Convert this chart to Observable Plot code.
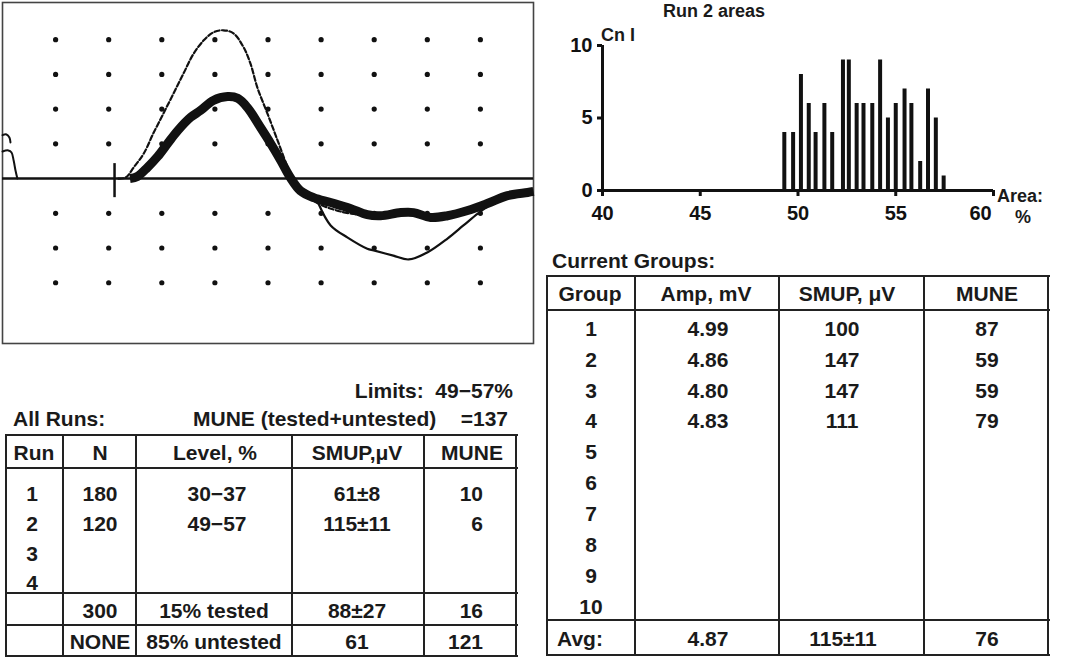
<!DOCTYPE html>
<html><head><meta charset="utf-8">
<script src="https://cdn.jsdelivr.net/npm/d3@7"></script>
<script src="https://cdn.jsdelivr.net/npm/@observablehq/plot@0.6"></script>
<style>
body{margin:0;background:#fff;}
#root{position:relative;width:1067px;height:657px;overflow:hidden;font-family:"Liberation Sans",Arial,sans-serif;font-weight:bold;color:#1a1a1a;}
.t{position:absolute;white-space:pre;line-height:1;}
.ln{position:absolute;background:#222;}
.plot{position:absolute;}
</style></head><body><div id="root"></div>
<script>
// ---------- Waveform (units: screen divisions) ----------
const gridCols = [1,2,3,4,5,6,7,8,9];
const gridRows = [4,3,2,1,-1,-2,-3];
const thickTrace = [[2.40,0],[2.54,0.06],[2.73,0.32],[2.92,0.63],[3.11,1.01],[3.30,1.38],[3.54,1.76],[3.73,1.96],[3.97,2.25],[4.24,2.36],[4.43,2.31],[4.61,2.05],[4.86,1.47],[5.05,1.01],[5.24,0.52],[5.42,0.03],[5.61,-0.35],[5.86,-0.55],[6.18,-0.69],[6.55,-0.86],[6.87,-1.04],[7.12,-1.07],[7.50,-0.98],[7.74,-0.98],[8.06,-1.12],[8.38,-1.07],[8.76,-0.92],[9.13,-0.72],[9.51,-0.49],[9.89,-0.40],[10.0,-0.37]];
const dashedTrace = [[2.18,0],[2.32,0.03],[2.47,0.32],[2.66,0.72],[2.84,1.30],[3.03,1.87],[3.22,2.45],[3.41,3.03],[3.60,3.60],[3.79,3.98],[3.97,4.21],[4.16,4.27],[4.35,4.18],[4.54,3.78],[4.67,3.31],[4.80,2.62],[4.99,1.87],[5.18,1.10],[5.37,0.32],[5.48,-0.06],[5.67,-0.43],[5.99,-0.75],[6.37,-0.95],[6.84,-1.07]];
const thinTrace = [[5.95,-0.72],[6.18,-1.35],[6.50,-1.70],[6.87,-2.02],[6.99,-2.07],[7.36,-2.22],[7.65,-2.33],[8.00,-2.13],[8.38,-1.73],[8.68,-1.35],[8.95,-1.01],[9.13,-0.81]];
const artifactA = [[0,1.25],[0.075,1.27],[0.13,1.18],[0.15,1.04]];
const artifactB = [[0,0.78],[0.11,0.81],[0.17,0.75],[0.21,0.52],[0.245,0.23],[0.28,0]];
const stimMarker = {x:2.11, top:0.43, bottom:-0.55};

// ---------- Histogram ----------
const histArea  = [49.3,49.75,50.15,50.55,50.9,51.35,51.75,52.3,52.6,53.0,53.35,53.8,54.2,54.6,55.0,55.45,55.8,56.25,56.65,57.05,57.45];
const histCount = [4,4,8,6,4,6,4,9,9,6,6,6,9,5,6,7,6,2,7,5,1];
const histXTicks = [40,45,50,55,60];
const histYTicks = [0,5,10];

// ---------- Tables ----------
const runHeader = ["Run","N","Level, %","SMUP,\u03bcV","MUNE"];
const runIds = ["1","2","3","4"];
const runN = ["180","120","",""];
const runLevel = ["30\u221237","49\u221257","",""];
const runSmup = ["61\u00b18","115\u00b111","",""];
const runMune = ["10","6","",""];
const testedRow = ["","300","15% tested","88\u00b127","16"];
const untestedRow = ["","NONE","85% untested","61","121"];
const groupHeader = ["Group","Amp, mV","SMUP, \u03bcV","MUNE"];
const groupIds = ["1","2","3","4","5","6","7","8","9","10"];
const groupAmp = ["4.99","4.86","4.80","4.83"];
const groupSmup = ["100","147","147","111"];
const groupMune = ["87","59","59","79"];
const avgRow = ["Avg:","4.87","115\u00b111","76"];

const root = document.getElementById("root");
const FS = 21;

// Waveform plot
const pts = a => a.map(([x,y]) => ({x,y}));
const grid = gridCols.flatMap(c => gridRows.map(r => ({x:c, y:r})));
const wave = Plot.plot({
  width: 535, height: 346,
  marginLeft: 2, marginRight: 2, marginTop: 2, marginBottom: 3,
  x: {domain:[0,10], axis:null},
  y: {domain:[-4.75,5.07], axis:null},
  style: {background:"transparent", color:"#111"},
  marks: [
    Plot.frame({stroke:"#444", strokeWidth:1.6}),
    Plot.dot(grid, {x:"x", y:"y", r:2.6, fill:"#111", stroke:"none"}),
    Plot.ruleY([0], {stroke:"#111", strokeWidth:2.5}),
    Plot.ruleX([stimMarker], {x:"x", y1:"top", y2:"bottom", stroke:"#111", strokeWidth:2.5}),
    Plot.line(pts(thickTrace), {x:"x", y:"y", stroke:"#111", strokeWidth:9, curve:"catmull-rom", strokeLinecap:"butt"}),
    Plot.line(pts(dashedTrace), {x:"x", y:"y", stroke:"#111", strokeWidth:2.2, strokeDasharray:"5,2.5", curve:"catmull-rom"}),
    Plot.line(pts(thinTrace), {x:"x", y:"y", stroke:"#111", strokeWidth:2.2, curve:"catmull-rom"}),
    Plot.line(pts(artifactA), {x:"x", y:"y", stroke:"#111", strokeWidth:2, curve:"catmull-rom"}),
    Plot.line(pts(artifactB), {x:"x", y:"y", stroke:"#111", strokeWidth:2, curve:"catmull-rom"})
  ]
});
wave.classList.add("plot");
wave.style.left = "0px"; wave.style.top = "0px";
root.append(wave);

// Histogram plot
const bars = histArea.map((a,i) => ({area:a, count:histCount[i]}));
const hist = Plot.plot({
  width: 527, height: 230,
  marginLeft: 62, marginRight: 74, marginTop: 45, marginBottom: 40,
  x: {domain:[40,60]},
  y: {domain:[0,10]},
  style: {background:"transparent", color:"#111", fontFamily:"Liberation Sans, Arial, sans-serif", fontWeight:"bold", fontSize:"20px"},
  marks: [
    Plot.ruleX(bars, {x:"area", y1:0, y2:"count", stroke:"#111", strokeWidth:4}),
    Plot.axisY({ticks:histYTicks, tickSize:5, tickPadding:5, strokeWidth:3, label:null}),
    Plot.axisX({ticks:histXTicks, tickSize:6, tickPadding:9, strokeWidth:3, label:null, tickFormat: d => d === 60 ? "" : String(d)}),
    Plot.text(histXTicks.filter(d => d === 60), {x: d => d, frameAnchor:"bottom", dy:15, dx:-13, lineAnchor:"top", text: d => String(d)}),
    Plot.ruleX([40], {stroke:"#111", strokeWidth:3}),
    Plot.ruleY([0], {stroke:"#111", strokeWidth:3})
  ]
});
hist.classList.add("plot");
hist.style.left = "540px"; hist.style.top = "0px";
root.append(hist);

// Text + line helpers
function T(txt, x, y, align, size) {
  size = size || FS;
  const d = document.createElement("div");
  d.className = "t";
  d.textContent = txt;
  d.style.fontSize = size + "px";
  d.style.top = (y - 0.49 * size) + "px";
  if (align === "c") { d.style.left = x + "px"; d.style.transform = "translateX(-50%)"; }
  else if (align === "r") { d.style.right = (1067 - x) + "px"; }
  else { d.style.left = x + "px"; }
  root.append(d);
}
function H(x1, x2, y) { const d = document.createElement("div"); d.className = "ln"; d.style.left = x1 + "px"; d.style.width = (x2 - x1 + 2) + "px"; d.style.top = (y - 1) + "px"; d.style.height = "2px"; root.append(d); }
function V(x, y1, y2) { const d = document.createElement("div"); d.className = "ln"; d.style.left = (x - 1) + "px"; d.style.top = (y1 - 1) + "px"; d.style.width = "2px"; d.style.height = (y2 - y1 + 2) + "px"; root.append(d); }

// Histogram labels
T("Run 2 areas", 714, 11, "c", 18);
T("Cn I", 601, 35, "l", 18);
T("Area:", 997, 196, "l", 18);
T("%", 1023, 217, "c", 18);

// Left table
T("Limits:  49\u221257%", 513, 390, "r");
T("All Runs:", 13, 418, "l");
T("MUNE (tested+untested)", 193, 418, "l");
T("=137", 508, 418, "r");
const lCols = [6, 63, 136, 292, 424, 516];
[435, 468, 593, 625, 656].forEach(y => H(lCols[0], lCols[5], y));
lCols.forEach(x => V(x, 435, 656));
const lHeadX = [34, 100, 215, 357, 472];
runHeader.forEach((h,i) => T(h, lHeadX[i], 452, "c"));
const lRowY = [493, 523, 553, 582];
runIds.forEach((r,i) => {
  T(r, 32, lRowY[i], "c");
  T(runN[i], 100, lRowY[i], "c");
  T(runLevel[i], 217, lRowY[i], "c");
  T(runSmup[i], 357, lRowY[i], "c");
  T(runMune[i], 483, lRowY[i], "r");
});
[[testedRow, 610], [untestedRow, 641]].forEach(([row, y]) => {
  T(row[1], 100, y, "c");
  T(row[2], 214, y, "c");
  T(row[3], 357, y, "c");
  T(row[4], 483, y, "r");
});

// Right table
T("Current Groups:", 552, 260, "l");
const rCols = [547, 635, 779, 924, 1048];
[276, 310, 620, 655].forEach(y => H(rCols[0], rCols[4], y));
rCols.forEach(x => V(x, 276, 655));
const rHeadX = [590, 706, 847, 987];
groupHeader.forEach((h,i) => T(h, rHeadX[i], 293, "c"));
groupIds.forEach((g,i) => {
  const y = 328 + i * 30.9;
  T(g, 591, y, "c");
  if (groupAmp[i]) T(groupAmp[i], 708, y, "c");
  if (groupSmup[i]) T(groupSmup[i], 842, y, "c");
  if (groupMune[i]) T(groupMune[i], 987, y, "c");
});
T(avgRow[0], 557, 638, "l");
T(avgRow[1], 708, 638, "c");
T(avgRow[2], 843, 638, "c");
T(avgRow[3], 987, 638, "c");
</script>
</body></html>
